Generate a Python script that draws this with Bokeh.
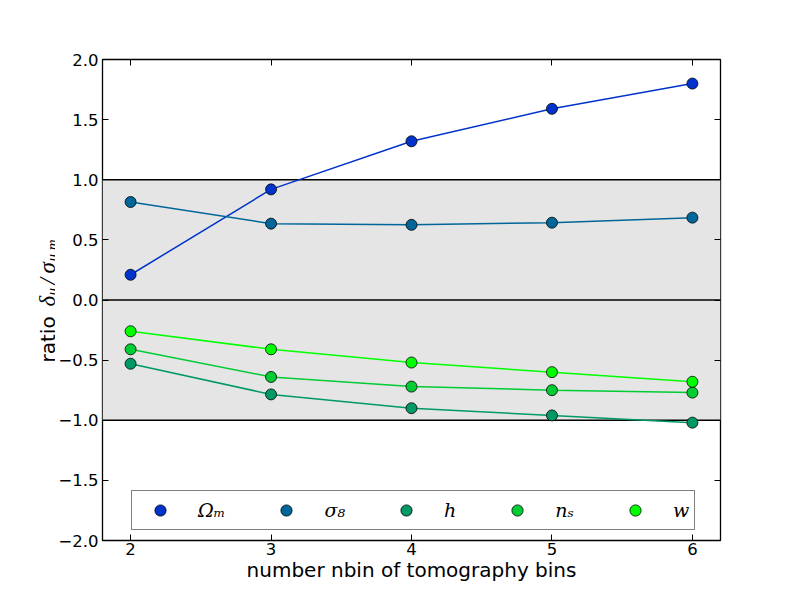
import math
from bokeh.plotting import figure
from bokeh.layouts import row
from bokeh.models import (Legend, LegendItem, BoxAnnotation, Span, FixedTicker,
                          LinearAxis, CustomJSTickFormatter)
from bokeh.core.properties import value
from bokeh.embed import file_html
from bokeh.resources import INLINE

# ---------------- data ----------------
n_bins = [2, 3, 4, 5, 6]
omega_m = [0.21, 0.92, 1.32, 1.59, 1.80]
sigma_8 = [0.815, 0.635, 0.625, 0.643, 0.685]
h_vals = [-0.53, -0.785, -0.90, -0.96, -1.02]
n_s = [-0.41, -0.64, -0.72, -0.75, -0.77]
w_vals = [-0.26, -0.41, -0.52, -0.60, -0.68]

series_names = ["\u03a9\u2098", "\u03c3\u2088", "h", "n\u209b", "w"]
series_values = [omega_m, sigma_8, h_vals, n_s, w_vals]
series_colors = ["#0033cc", "#006699", "#009966", "#00cc33", "#00ff00"]

x_ticks = [2, 3, 4, 5, 6]
x_tick_labels = ["2", "3", "4", "5", "6"]
y_ticks = [-2.0, -1.5, -1.0, -0.5, 0.0, 0.5, 1.0, 1.5, 2.0]
y_tick_labels = ["\u22122.0", "\u22121.5", "\u22121.0", "\u22120.5", "0.0",
                 "0.5", "1.0", "1.5", "2.0"]
x_label = "number nbin of tomography bins"
band_limits = [-1.0, 1.0]
ref_lines = [1.0, 0.0, -1.0]

# ---------------- layout geometry ----------------
W, H = 784, 584
LBL_W = 55            # width of the strip holding the y label
FRAME_L, FRAME_R, FRAME_T, FRAME_B = 100, 720, 59, 540
BORDER_T = FRAME_T
BORDER_B = H - FRAME_B

# ---------------- main figure ----------------
p = figure(width=W - LBL_W, height=H, x_range=(1.8, 6.2), y_range=(-2.0, 2.0),
           output_backend="svg", toolbar_location=None,
           min_border_left=FRAME_L - LBL_W, min_border_right=W - FRAME_R,
           min_border_top=BORDER_T, min_border_bottom=BORDER_B)
p.title.visible = False
p.xgrid.visible = False
p.ygrid.visible = False
p.outline_line_color = "black"
p.outline_line_width = 1.3
p.background_fill_color = "white"
p.border_fill_color = "white"

def style_axis(ax, show_labels):
    ax.axis_line_color = None
    ax.major_tick_in = 6
    ax.major_tick_out = 0
    ax.major_tick_line_color = "black"
    ax.major_tick_line_width = 1
    ax.minor_tick_line_color = None
    ax.major_label_text_font = "DejaVu Sans"
    ax.major_label_text_font_size = "16.5px"
    ax.major_label_text_color = "black"
    ax.major_label_standoff = 5
    if not show_labels:
        ax.formatter = CustomJSTickFormatter(code="return ''")

p.xaxis.ticker = FixedTicker(ticks=x_ticks)
p.xaxis.major_label_overrides = {t: l for t, l in zip(x_ticks, x_tick_labels)}
p.yaxis.ticker = FixedTicker(ticks=y_ticks)
p.yaxis.major_label_overrides = {t: l for t, l in zip(y_ticks, y_tick_labels)}
style_axis(p.xaxis[0], True)
style_axis(p.yaxis[0], True)
p.yaxis[0].major_label_standoff = 4
p.xaxis[0].major_label_standoff = 2
p.xaxis[0].axis_label = x_label
p.xaxis[0].axis_label_standoff = 0
p.xaxis[0].axis_label_text_font = "DejaVu Sans"
p.xaxis[0].axis_label_text_font_size = "20px"
p.xaxis[0].axis_label_text_font_style = "normal"
p.xaxis[0].axis_label_text_color = "black"

top_ax = LinearAxis(ticker=FixedTicker(ticks=x_ticks))
right_ax = LinearAxis(ticker=FixedTicker(ticks=y_ticks))
style_axis(top_ax, False)
style_axis(right_ax, False)
top_ax.major_label_standoff = 0
right_ax.major_label_standoff = 0
p.add_layout(top_ax, "above")
p.add_layout(right_ax, "right")

# shaded band and reference lines
p.add_layout(BoxAnnotation(bottom=band_limits[0], top=band_limits[1],
                           fill_color="#e5e5e5", fill_alpha=1.0,
                           line_color=None, level="underlay"))
for yl in ref_lines:
    p.add_layout(Span(location=yl, dimension="width", line_color="black",
                      line_width=1.6, level="underlay"))

# series
items = []
for name, vals, col in zip(series_names, series_values, series_colors):
    p.line(n_bins, vals, line_color=col, line_width=1.5)
    r = p.scatter(n_bins, vals, size=11, fill_color=col, line_color="black",
                  line_width=0.8)
    items.append(LegendItem(label=name, renderers=[r]))

legend = Legend(items=items, orientation="horizontal", location=(29, 10),
                border_line_color="black", border_line_width=1.3,
                background_fill_color="white", background_fill_alpha=1.0,
                padding=5, spacing=38, margin=0,
                glyph_width=46, glyph_height=28, label_standoff=15,
                label_width=0, label_height=20,
                label_text_font="DejaVu Serif", label_text_font_style="italic",
                label_text_font_size="19px", label_text_color="black")
p.add_layout(legend)

SANS = "DejaVu Sans"
SERIF = "Liberation Serif"

def piece(f, text, x, y, font, size, style="normal", angle=0.0):
    f.text(x=[x], y=[y], text=[text], text_font=value(font), text_font_size=size,
           text_font_style=style, text_color="black", text_align="left",
           text_baseline="alphabetic", angle=angle)

# ---------------- y label strip ----------------
# same top/bottom borders as the main plot; data units = px from strip bottom
ly = figure(width=LBL_W, height=H, x_range=(0, LBL_W), y_range=(BORDER_B, H - BORDER_T),
            output_backend="svg", toolbar_location=None,
            x_axis_type=None, y_axis_type=None,
            min_border_left=0, min_border_right=0,
            min_border_top=BORDER_T, min_border_bottom=BORDER_B)
ly.title.visible = False
ly.outline_line_color = None
ly.border_fill_color = "white"
ly.background_fill_color = "white"

def ly_y(py):
    return float(H - py)

yb = 47.0
A = math.pi / 2
piece(ly, "ratio", yb, ly_y(362.0), SANS, "20px", angle=A)
piece(ly, "\u03b4", yb, ly_y(306.0), SERIF, "23px", "italic", angle=A)
piece(ly, "\u03bc", yb + 4, ly_y(295.0), SERIF, "15px", "italic", angle=A)
piece(ly, "/", yb, ly_y(284.0), SERIF, "23px", "italic", angle=A)
piece(ly, "\u03c3", yb, ly_y(273.0), SERIF, "23px", "italic", angle=A)
piece(ly, "\u03bc,m", yb + 4, ly_y(261.0), SERIF, "15px", "italic", angle=A)

layout = row(ly, p, spacing=0)
open("out.html", "w").write(file_html(layout, INLINE))
